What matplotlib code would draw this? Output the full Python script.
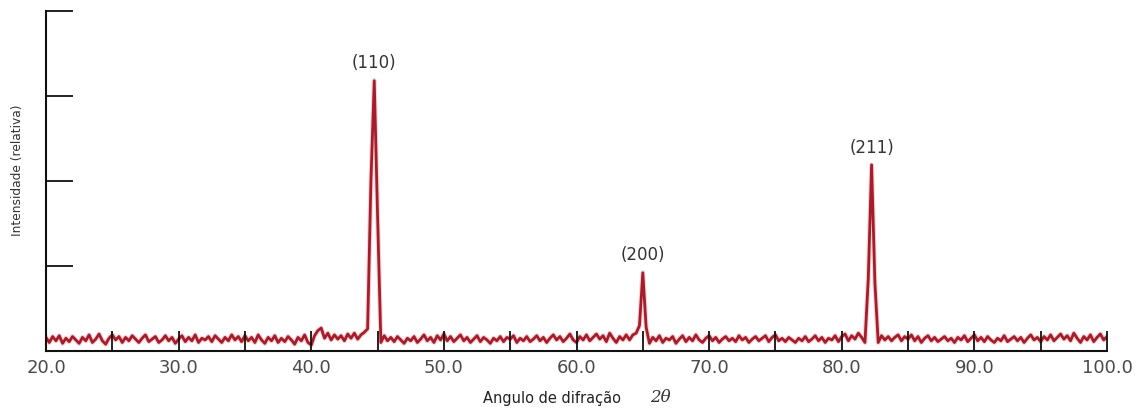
import numpy as np
import matplotlib
matplotlib.use("Agg")
import matplotlib.pyplot as plt

# ---- data ----
angle_start, angle_step = 20.0, 0.25
seg_20 = [0.16,0.10,0.17,0.12,0.18,0.09,0.15,0.11,0.17,0.13,0.09,0.16,0.12,0.19,0.10,0.14,0.20,0.12,0.08,0.15]
seg_25 = [0.19,0.13,0.17,0.10,0.16,0.12,0.18,0.14,0.10,0.15,0.19,0.11,0.14,0.17,0.10,0.13,0.18,0.12,0.16,0.09]
seg_30 = [0.14,0.18,0.11,0.16,0.12,0.19,0.10,0.15,0.13,0.17,0.11,0.18,0.14,0.10,0.16,0.12,0.19,0.13,0.17,0.11]
seg_35 = [0.18,0.12,0.16,0.10,0.19,0.13,0.09,0.16,0.12,0.18,0.10,0.15,0.11,0.17,0.13,0.08,0.16,0.12,0.19,0.10]
seg_40 = [0.07,0.18,0.24,0.27,0.15,0.21,0.13,0.19,0.14,0.18,0.12,0.20,0.15,0.21,0.14,0.19,0.22,0.26,2.00,3.18]
seg_45 = [1.60,0.10,0.18,0.12,0.16,0.11,0.17,0.13,0.09,0.15,0.12,0.17,0.10,0.14,0.19,0.12,0.16,0.10,0.18,0.13]
seg_50 = [0.20,0.12,0.17,0.11,0.15,0.19,0.12,0.16,0.10,0.14,0.18,0.11,0.16,0.13,0.09,0.15,0.12,0.17,0.11,0.16]
seg_55 = [0.14,0.18,0.10,0.15,0.12,0.17,0.11,0.14,0.18,0.12,0.16,0.10,0.15,0.19,0.13,0.17,0.11,0.15,0.20,0.13]
seg_60 = [0.10,0.17,0.13,0.19,0.12,0.16,0.20,0.14,0.18,0.11,0.21,0.15,0.10,0.17,0.13,0.19,0.13,0.19,0.21,0.30]
seg_65 = [0.92,0.28,0.09,0.16,0.12,0.18,0.10,0.15,0.13,0.17,0.09,0.14,0.18,0.11,0.16,0.12,0.19,0.13,0.10,0.15]
seg_70 = [0.18,0.12,0.16,0.10,0.14,0.17,0.12,0.15,0.11,0.18,0.13,0.16,0.10,0.14,0.17,0.12,0.15,0.18,0.11,0.16]
seg_75 = [0.19,0.12,0.15,0.11,0.16,0.13,0.10,0.15,0.12,0.17,0.11,0.14,0.18,0.12,0.16,0.10,0.15,0.13,0.18,0.11]
seg_80 = [0.17,0.20,0.12,0.18,0.14,0.21,0.16,0.10,0.85,2.19,0.80,0.10,0.18,0.13,0.17,0.12,0.16,0.19,0.12,0.17]
seg_85 = [0.14,0.19,0.12,0.17,0.10,0.15,0.18,0.12,0.16,0.11,0.14,0.17,0.12,0.15,0.10,0.16,0.13,0.18,0.11,0.15]
seg_90 = [0.19,0.12,0.16,0.11,0.17,0.13,0.10,0.15,0.12,0.18,0.11,0.14,0.17,0.12,0.16,0.10,0.15,0.19,0.13,0.16]
seg_95 = [0.11,0.17,0.13,0.19,0.12,0.16,0.20,0.14,0.18,0.12,0.21,0.15,0.10,0.17,0.13,0.19,0.11,0.16,0.20,0.13]
seg_end = [0.17]

peak_labels = ["(110)", "(200)", "(211)"]
peak_angles = [44.75, 65.0, 82.25]
peak_heights = [3.18, 0.92, 2.19]

x_ticks = [20, 25, 30, 35, 40, 45, 50, 55, 60, 65, 70, 75, 80, 85, 90, 95, 100]
x_ticklabels = ["20.0", "", "30.0", "", "40.0", "", "50.0", "", "60.0", "", "70.0", "",
                "80.0", "", "90.0", "", "100.0"]
y_ticks = [1, 2, 3, 4]

intensity = np.array(seg_20 + seg_25 + seg_30 + seg_35 + seg_40 + seg_45 + seg_50 + seg_55 +
                     seg_60 + seg_65 + seg_70 + seg_75 + seg_80 + seg_85 + seg_90 + seg_95 + seg_end)
angles = angle_start + angle_step * np.arange(len(intensity))

# ---- figure ----
fig = plt.figure(figsize=(11.48, 4.12), dpi=100)
ax = fig.add_axes([46/1148, 1 - 351/412, (1107-46)/1148, (351-11)/412])

ax.plot(angles, intensity, color="#f6d3d6", lw=3.6, solid_joinstyle="round", zorder=1)
ax.plot(angles, intensity, color="#a51c2a", lw=2.0, solid_joinstyle="round", zorder=1.5)

ax.set_xlim(20, 100)
ax.set_ylim(0, 4)
for s in ["top", "right"]:
    ax.spines[s].set_visible(False)
for s in ["left", "bottom"]:
    ax.spines[s].set_linewidth(1.5)
    ax.spines[s].set_color("#111111")

ax.set_xticks(x_ticks)
ax.set_xticklabels(x_ticklabels)
ax.set_yticks(y_ticks)
ax.set_yticklabels([])
ax.tick_params(axis="x", direction="in", length=14.5, width=1.3, color="#111111",
               labelsize=13, labelcolor="#4a4a4a", pad=6)
ax.tick_params(axis="y", direction="in", length=19.5, width=1.3, color="#111111")

for lab, xa, h in zip(peak_labels, peak_angles, peak_heights):
    ax.annotate(lab, (xa, h), xytext=(0, 6), textcoords="offset points",
                ha="center", va="bottom", fontsize=12, color="#333333")

fig.text(18/1148, 1 - 170/412, "Intensidade (relativa)", rotation=90, ha="center", va="center",
         fontsize=8.8, color="#333333")
fig.text(552/1148, 1 - 398/412, "Angulo de difração", ha="center", va="center",
         fontsize=10.5, color="#222222")
fig.text(660/1148, 1 - 397/412, "2θ", ha="center", va="center",
         fontsize=12, color="#333333", family="DejaVu Serif", style="italic")

fig.savefig("out.png", dpi=100)
